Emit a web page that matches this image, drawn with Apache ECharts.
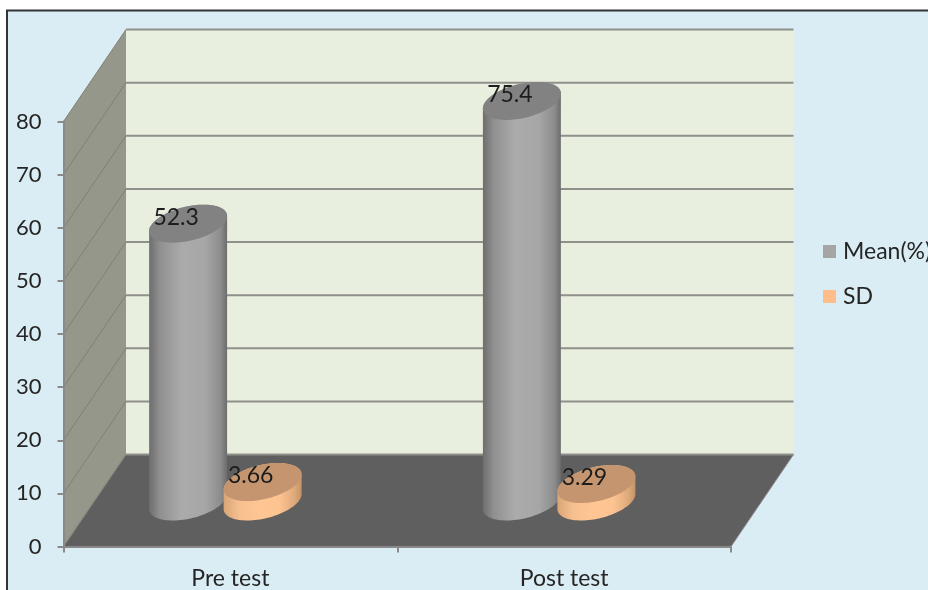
<!DOCTYPE html>
<html>
<head>
<meta charset="utf-8">
<style>
  html, body { margin: 0; padding: 0; background: #ffffff; overflow: hidden; }
  #chart { width: 928px; height: 590px; }
</style>
<script src="https://cdn.jsdelivr.net/npm/echarts@6/dist/echarts.min.js"></script>
</head>
<body>
<div id="chart"></div>
<script>
// Chart data
const categories = ['Pre test', 'Post test'];
const meanValues = [52.3, 75.4];
const sdValues = [3.66, 3.29];
const valueTicks = [0, 10, 20, 30, 40, 50, 60, 70, 80];

// Oblique projection of the chart box
const DEPTH_X = 62.5;
const DEPTH_Y = -92;
const FONT_FAMILY = 'Lato';
const TEXT_COLOR = '#252525';

// Cylinder cross-section: a circle on the floor seen in the same projection
const AXIS_U = 35.8;
const AXIS_VX = 15.4;
const AXIS_VY = -19;

function ellipsePoint(cx, cy, t) {
  return [
    cx + AXIS_U * Math.cos(t) + AXIS_VX * Math.sin(t),
    cy + AXIS_VY * Math.sin(t)
  ];
}

function ellipsePolygon(cx, cy) {
  const pts = [];
  for (let i = 0; i < 96; i++) {
    pts.push(ellipsePoint(cx, cy, (i / 96) * Math.PI * 2));
  }
  return pts;
}

// Side of a cylinder: over the back of the top ellipse, down the left edge,
// round the front of the base ellipse and back up the right edge
function sidePolygon(cx, topY, baseY) {
  const start = Math.atan2(AXIS_VX, AXIS_U);
  const pts = [];
  for (let i = 0; i <= 48; i++) {
    pts.push(ellipsePoint(cx, topY, start + (i / 48) * Math.PI));
  }
  for (let i = 0; i <= 48; i++) {
    pts.push(ellipsePoint(cx, baseY, start + Math.PI + (i / 48) * Math.PI));
  }
  return pts;
}

function cylinderSeries(name, values, shift, legendColor, sideStops, topColor) {
  return {
    name: name,
    type: 'custom',
    coordinateSystem: 'cartesian2d',
    z: 5,
    itemStyle: { color: legendColor },
    data: values.map((v, i) => [i, v]),
    encode: { x: 0, y: 1 },
    renderItem: function (params, api) {
      const cat = api.value(0);
      const val = api.value(1);
      const base = api.coord([cat, 0]);
      const top = api.coord([cat, val]);
      const cx = base[0] + DEPTH_X / 2 + shift;
      const baseY = base[1] + DEPTH_Y / 2 + 1;
      const topY = top[1] + DEPTH_Y / 2 + 1;
      return {
        type: 'group',
        children: [
          {
            type: 'polygon',
            shape: { points: sidePolygon(cx, topY, baseY) },
            style: {
              fill: new echarts.graphic.LinearGradient(0, 0, 1, 0, sideStops)
            }
          },
          {
            type: 'polygon',
            shape: { points: ellipsePolygon(cx, topY) },
            style: { fill: topColor }
          },
          {
            type: 'text',
            z2: 10,
            style: {
              text: String(val),
              x: cx - 12,
              y: topY - 6,
              align: 'center',
              verticalAlign: 'middle',
              fontFamily: FONT_FAMILY,
              fontSize: 23,
              fill: '#1c1c1c'
            }
          }
        ]
      };
    }
  };
}

const chart = echarts.init(document.getElementById('chart'), null, { renderer: 'canvas' });

chart.setOption({
  animation: false,
  backgroundColor: '#ffffff',
  graphic: [
    {
      type: 'rect',
      z: -10,
      silent: true,
      shape: { x: 7, y: 10.5, width: 1000, height: 1000 },
      style: { fill: '#DBEDF4', stroke: '#333333', lineWidth: 2 }
    }
  ],
  grid: { left: 63.5, right: 197, top: 121.5, height: 425, outerBoundsMode: 'none' },
  legend: {
    orient: 'vertical',
    left: 823,
    top: 240,
    padding: 0,
    itemWidth: 13,
    itemHeight: 13,
    itemGap: 22,
    textStyle: { fontFamily: FONT_FAMILY, fontSize: 23, color: TEXT_COLOR, padding: [0, 0, 0, 2] },
    data: [
      { name: 'Mean(%)', icon: 'rect' },
      { name: 'SD', icon: 'rect' }
    ]
  },
  xAxis: {
    type: 'category',
    data: categories,
    z: 3,
    axisLine: { lineStyle: { color: '#8a8a8a', width: 2 } },
    axisTick: { show: true, alignWithLabel: false, length: 6, lineStyle: { color: '#8a8a8a', width: 2 } },
    axisLabel: { margin: 21, fontFamily: FONT_FAMILY, fontSize: 23, color: TEXT_COLOR },
    splitLine: { show: false }
  },
  yAxis: {
    type: 'value',
    min: 0,
    max: 80,
    interval: 10,
    z: 3,
    axisLine: { show: true, lineStyle: { color: '#8a8a8a', width: 2 } },
    axisTick: { show: true, length: 6, lineStyle: { color: '#8a8a8a', width: 2 } },
    axisLabel: { margin: 22, fontFamily: FONT_FAMILY, fontSize: 22, color: TEXT_COLOR, padding: [4, 0, 0, 0] },
    splitLine: { show: false }
  },
  series: [
    {
      // Walls and floor of the box, placed from the grid rectangle
      type: 'custom',
      coordinateSystem: 'cartesian2d',
      z: 1,
      silent: true,
      data: [[0, 0]],
      encode: { x: 0, y: 1 },
      renderItem: function (params) {
        const g = params.coordSys;
        const l = g.x, t = g.y, r = g.x + g.width, b = g.y + g.height;
        return {
          type: 'group',
          children: [
            {
              type: 'polygon',
              shape: { points: [[l + DEPTH_X, t + DEPTH_Y], [r + DEPTH_X, t + DEPTH_Y], [r + DEPTH_X, b + DEPTH_Y], [l + DEPTH_X, b + DEPTH_Y]] },
              style: { fill: '#E9EFDE' }
            },
            {
              type: 'polygon',
              shape: { points: [[l, t], [l + DEPTH_X, t + DEPTH_Y], [l + DEPTH_X, b + DEPTH_Y], [l, b]] },
              style: { fill: '#96978B' }
            },
            {
              type: 'polygon',
              shape: { points: [[l, b], [l + DEPTH_X, b + DEPTH_Y], [r + DEPTH_X, b + DEPTH_Y], [r, b]] },
              style: { fill: '#5F5F5F', stroke: '#8a8a8a', lineWidth: 1 }
            }
          ]
        };
      }
    },
    {
      // Gridlines running along the side wall and the back wall
      type: 'custom',
      coordinateSystem: 'cartesian2d',
      z: 2,
      silent: true,
      data: valueTicks.map(v => [0, v]),
      encode: { x: 0, y: 1 },
      renderItem: function (params, api) {
        const g = params.coordSys;
        const y = api.coord([0, api.value(1)])[1];
        const l = g.x, r = g.x + g.width;
        return {
          type: 'group',
          children: [
            {
              type: 'line',
              shape: { x1: l, y1: y, x2: l + DEPTH_X, y2: y + DEPTH_Y },
              style: { stroke: '#808176', lineWidth: 1 }
            },
            {
              type: 'line',
              shape: { x1: l + DEPTH_X, y1: y + DEPTH_Y, x2: r + DEPTH_X, y2: y + DEPTH_Y },
              style: { stroke: '#8f8f8b', lineWidth: 2 }
            }
          ]
        };
      }
    },
    cylinderSeries('Mean(%)', meanValues, -73.5, '#A5A5A5', [
      { offset: 0, color: '#6e6e6e' },
      { offset: 0.14, color: '#909090' },
      { offset: 0.42, color: '#ababab' },
      { offset: 0.72, color: '#a6a6a6' },
      { offset: 0.92, color: '#8c8c8c' },
      { offset: 1, color: '#6c6c6c' }
    ], '#828282'),
    cylinderSeries('SD', sdValues, 1, '#FFBD8A', [
      { offset: 0, color: '#d9a577' },
      { offset: 0.2, color: '#f6bf8f' },
      { offset: 0.45, color: '#ffc694' },
      { offset: 0.72, color: '#fdc391' },
      { offset: 0.9, color: '#dfab7c' },
      { offset: 1, color: '#c59367' }
    ], '#C4956F')
  ]
});
</script>
</body>
</html>
